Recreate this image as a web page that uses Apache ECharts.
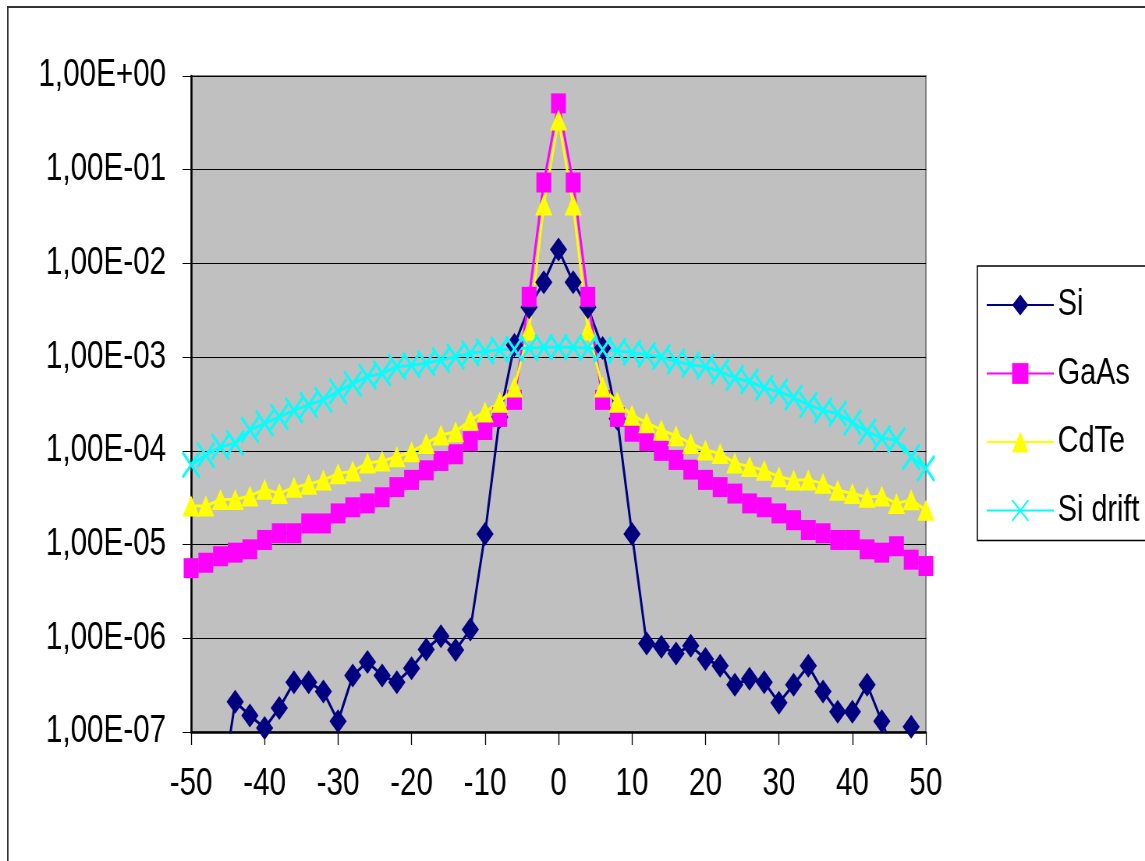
<!DOCTYPE html>
<html>
<head>
<meta charset="utf-8">
<script src="https://cdn.jsdelivr.net/npm/echarts@6/dist/echarts.min.js"></script>
<style>
  html, body { margin: 0; padding: 0; background: #fff; overflow: hidden; width: 1145px; height: 861px; }
  /* The chart is laid out on a wider canvas and compressed horizontally,
     which gives the condensed lettering and tall markers of this figure. */
  #chart { width: 1468px; height: 861px; transform: scaleX(0.78); transform-origin: 0 0; }
</style>
</head>
<body>
<div id="chart"></div>
<script>
// Position along the detector (x) and relative response for each detector type
const positions = [-50, -48, -46, -44, -42, -40, -38, -36, -34, -32, -30, -28, -26, -24, -22, -20, -18, -16, -14, -12, -10, -8, -6, -4, -2, 0,
                   2, 4, 6, 8, 10, 12, 14, 16, 18, 20, 22, 24, 26, 28, 30, 32, 34, 36, 38, 40, 42, 44, 46, 48, 50];

const siValues = [3e-8, 4e-8, 2e-8, 2.1e-7, 1.5e-7, 1.1e-7, 1.8e-7, 3.4e-7, 3.4e-7, 2.7e-7, 1.3e-7, 4.0e-7, 5.6e-7, 4.0e-7, 3.4e-7, 4.8e-7, 7.6e-7, 1.05e-6, 7.5e-7, 1.24e-6, 1.3e-5, 2.3e-4, 1.35e-3, 3.4e-3, 6.3e-3, 1.41e-2,
                  6.3e-3, 3.4e-3, 1.25e-3, 2.2e-4, 1.3e-5, 8.8e-7, 8.1e-7, 6.9e-7, 8.3e-7, 6.0e-7, 5.1e-7, 3.2e-7, 3.7e-7, 3.4e-7, 2.05e-7, 3.2e-7, 5.1e-7, 2.7e-7, 1.64e-7, 1.64e-7, 3.2e-7, 1.3e-7, 5e-8, 1.14e-7, 5e-8];

const gaasValues = [5.6e-6, 6.4e-6, 7.5e-6, 8.2e-6, 8.9e-6, 1.12e-5, 1.32e-5, 1.32e-5, 1.68e-5, 1.68e-5, 2.15e-5, 2.5e-5, 2.75e-5, 3.2e-5, 4.1e-5, 4.9e-5, 6.2e-5, 7.8e-5, 9.2e-5, 1.27e-4, 1.67e-4, 2.3e-4, 3.5e-4, 4.4e-3, 7.3e-2, 0.51,
                    7.3e-2, 4.4e-3, 3.5e-4, 2.3e-4, 1.6e-4, 1.27e-4, 1.0e-4, 8.0e-5, 6.3e-5, 4.9e-5, 4.1e-5, 3.5e-5, 2.75e-5, 2.5e-5, 2.15e-5, 1.82e-5, 1.43e-5, 1.32e-5, 1.12e-5, 1.12e-5, 8.9e-6, 8.2e-6, 9.6e-6, 6.9e-6, 5.9e-6];

const cdteValues = [2.58e-5, 2.58e-5, 3.03e-5, 3.03e-5, 3.3e-5, 3.9e-5, 3.5e-5, 4.1e-5, 4.4e-5, 4.9e-5, 5.7e-5, 6.1e-5, 7.4e-5, 7.8e-5, 8.65e-5, 9.8e-5, 1.2e-4, 1.48e-4, 1.6e-4, 2.13e-4, 2.6e-4, 3.3e-4, 4.8e-4, 1.95e-3, 4.2e-2, 0.34,
                    4.2e-2, 1.95e-3, 4.8e-4, 3.3e-4, 2.4e-4, 2.0e-4, 1.67e-4, 1.45e-4, 1.2e-4, 1.02e-4, 9.4e-5, 7.4e-5, 6.8e-5, 6.2e-5, 5.3e-5, 4.9e-5, 4.9e-5, 4.5e-5, 3.8e-5, 3.5e-5, 3.2e-5, 3.3e-5, 2.75e-5, 3.0e-5, 2.33e-5];

const siDriftValues = [7.1e-5, 9.0e-5, 1.1e-4, 1.2e-4, 1.67e-4, 1.96e-4, 2.3e-4, 2.7e-4, 3.1e-4, 3.5e-4, 4.3e-4, 5.2e-4, 6.2e-4, 6.7e-4, 7.9e-4, 8.2e-4, 8.6e-4, 9.3e-4, 1.01e-3, 1.1e-3, 1.15e-3, 1.2e-3, 1.22e-3, 1.25e-3, 1.27e-3, 1.28e-3,
                       1.27e-3, 1.25e-3, 1.2e-3, 1.17e-3, 1.12e-3, 1.06e-3, 1.0e-3, 9.0e-4, 8.3e-4, 7.9e-4, 7.0e-4, 6.0e-4, 5.5e-4, 4.7e-4, 4.3e-4, 3.7e-4, 3.1e-4, 2.7e-4, 2.5e-4, 2.0e-4, 1.6e-4, 1.37e-4, 1.3e-4, 8.6e-5, 6.5e-5];

const seriesNames = ['Si', 'GaAs', 'CdTe', 'Si drift'];

const FONT = "'Liberation Sans', Arial, sans-serif";

function pairs(values) {
  return positions.map((x, i) => [x, values[i]]);
}

// "1,00E-03" style labels for the decade ticks
function sciLabel(v) {
  const e = Math.round(Math.log10(v));
  const a = Math.abs(e);
  return '1,00E' + (e < 0 ? '-' : '+') + (a < 10 ? '0' : '') + a;
}

const crossSymbol = 'path://M0,0L10,10M0,10L10,0';

const chart = echarts.init(document.getElementById('chart'), null, { renderer: 'canvas', width: 1468, height: 861 });

chart.setOption({
  animation: false,
  backgroundColor: '#ffffff',
  graphic: [{
    type: 'rect',
    z: -10,
    shape: { x: 10, y: 7, width: 1700, height: 1000 },
    style: { fill: 'none', stroke: '#333', lineWidth: 2 }
  }],
  grid: {
    left: 245, top: 76, width: 942, height: 656,
    show: true,
    backgroundColor: '#C0C0C0',
    borderColor: '#808080',
    borderWidth: 2
  },
  legend: {
    orient: 'vertical',
    left: 1253,
    top: 266,
    padding: [18, 300, 9, 11],
    itemGap: 26.5,
    itemWidth: 86,
    itemHeight: 26,
    backgroundColor: '#ffffff',
    borderColor: '#000',
    borderWidth: 1.5,
    borderRadius: 0,
    data: seriesNames,
    textStyle: { fontFamily: FONT, fontSize: 37, color: '#000', lineHeight: 42 }
  },
  xAxis: {
    type: 'value',
    min: -50, max: 50, interval: 10,
    axisLine: { show: true, onZero: false, lineStyle: { color: '#000', width: 2.5 } },
    axisTick: { show: true, length: 13, lineStyle: { color: '#000', width: 1.3 } },
    splitLine: { show: false },
    axisLabel: { margin: 34, fontFamily: FONT, fontSize: 38, color: '#000' }
  },
  yAxis: {
    type: 'log',
    logBase: 10,
    min: 1e-7, max: 1, interval: 1,
    axisLine: { show: true, onZero: false, lineStyle: { color: '#000', width: 2.5 } },
    axisTick: { show: true, length: 11, lineStyle: { color: '#000', width: 1 } },
    splitLine: { show: true, lineStyle: { color: '#000', width: 1 } },
    minorTick: { show: false },
    axisLabel: { margin: 32, fontFamily: FONT, fontSize: 38, color: '#000', formatter: sciLabel }
  },
  series: [
    {
      name: 'Si', type: 'line', data: pairs(siValues),
      symbol: 'diamond', symbolSize: [22, 24],
      lineStyle: { color: '#000080', width: 3 },
      itemStyle: { color: '#000080' }
    },
    {
      name: 'GaAs', type: 'line', data: pairs(gaasValues),
      symbol: 'rect', symbolSize: [19, 20],
      lineStyle: { color: '#FF00FF', width: 3 },
      itemStyle: { color: '#FF00FF' }
    },
    {
      name: 'CdTe', type: 'line', data: pairs(cdteValues),
      symbol: 'triangle', symbolSize: [22, 21],
      lineStyle: { color: '#FFFF00', width: 3 },
      itemStyle: { color: '#FFFF00' }
    },
    {
      name: 'Si drift', type: 'line', data: pairs(siDriftValues),
      symbol: crossSymbol, symbolSize: [22, 25],
      lineStyle: { color: '#00FFFF', width: 3 },
      itemStyle: { color: 'rgba(0,0,0,0)', borderColor: '#00FFFF', borderWidth: 3 }
    }
  ]
});
</script>
</body>
</html>
